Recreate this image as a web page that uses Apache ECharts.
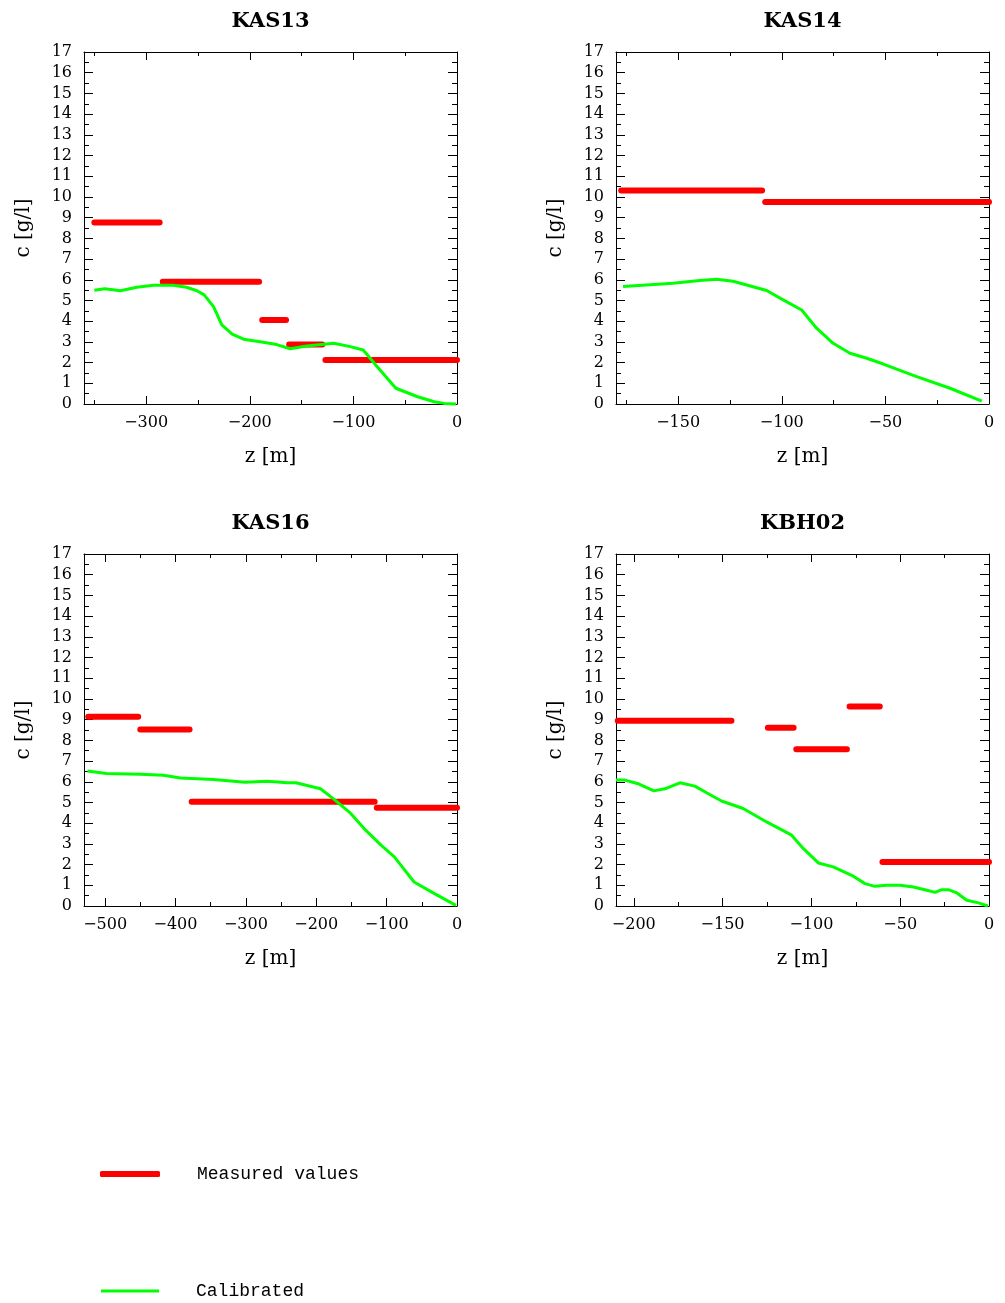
<!DOCTYPE html>
<html><head><meta charset="utf-8">
<script src="https://cdn.jsdelivr.net/npm/echarts@6/dist/echarts.min.js"></script>
<style>html,body{margin:0;padding:0;background:#fff}#c{width:1005px;height:1303px}</style>
</head><body><div id="c"></div>
<script>
// ---------- data ----------
const wellNames = ['KAS13', 'KAS14', 'KAS16', 'KBH02'];
const zMinValues = [-360, -180, -530, -210];
const cTicks = [0,1,2,3,4,5,6,7,8,9,10,11,12,13,14,15,16,17];

const zMajorKAS13 = [-300, -200, -100, 0];
const zMinorKAS13 = [-350, -250, -150, -50];
const zMajorKAS14 = [-150, -100, -50, 0];
const zMinorKAS14 = [-175, -125, -75, -25];
const zMajorKAS16 = [-500, -400, -300, -200, -100, 0];
const zMinorKAS16 = [-450, -350, -250, -150, -50];
const zMajorKBH02 = [-200, -150, -100, -50, 0];
const zMinorKBH02 = [-175, -125, -75, -25];

// measured: [zFrom, zTo, c]
const measuredKAS13 = [[-350, -287, 8.76], [-284, -191, 5.91], [-188, -165, 4.06], [-162, -130, 2.87], [-127, 0, 2.13]];
const measuredKAS14 = [[-177.5, -109.5, 10.31], [-108, 0, 9.76]];
const measuredKAS16 = [[-524, -453, 9.14], [-450, -380, 8.52], [-377, -117, 5.03], [-114, 0, 4.74]];
const measuredKBH02 = [[-209, -145, 8.95], [-124.5, -110, 8.61], [-108.5, -80, 7.57], [-78.5, -61.5, 9.63], [-60, 0, 2.13]];

// calibrated: [z, c]
const calibratedKAS13 = [[-350,5.49],[-340,5.57],[-325,5.47],[-309,5.64],[-293,5.73],[-274,5.73],[-261,5.64],[-251,5.47],[-244,5.27],[-235,4.70],[-227,3.82],[-217,3.37],[-206,3.13],[-187,2.98],[-174,2.87],[-161,2.67],[-145,2.80],[-119,2.93],[-103,2.77],[-90.5,2.61],[-77,1.80],[-59,0.76],[-38,0.35],[-22,0.11],[-12.5,0.03],[-1,0]];
const calibratedKAS14 = [[-176.6,5.67],[-152.5,5.83],[-139.6,5.96],[-131.5,6.03],[-123.5,5.93],[-107.3,5.48],[-99.3,5.03],[-90.4,4.54],[-83.2,3.66],[-75.2,2.93],[-67.1,2.45],[-59,2.21],[-51,1.93],[-34.9,1.32],[-18.8,0.76],[-3.5,0.14]];
const calibratedKAS16 = [[-525,6.52],[-498,6.40],[-450,6.36],[-417,6.31],[-393,6.18],[-346,6.11],[-301,5.98],[-270,6.02],[-241,5.95],[-229,5.95],[-194,5.66],[-175,5.16],[-151,4.47],[-132,3.74],[-108,2.94],[-89,2.37],[-61,1.16],[-32,0.60],[-1.5,0.03]];
const calibratedKBH02 = [[-210,6.08],[-205,6.08],[-197,5.89],[-193,5.73],[-188.7,5.56],[-182.5,5.66],[-174,5.95],[-165.6,5.79],[-159,5.47],[-150.6,5.07],[-138.4,4.71],[-125.2,4.06],[-111.1,3.42],[-104.6,2.78],[-96.1,2.08],[-87.7,1.89],[-76.4,1.44],[-69.8,1.08],[-64.2,0.95],[-57.6,1.00],[-50.1,1.00],[-42.6,0.92],[-35,0.76],[-30.3,0.66],[-26.6,0.79],[-22.9,0.79],[-18.1,0.63],[-12.5,0.28],[-5.9,0.15],[-0.6,0]];

const majorTicks = [zMajorKAS13, zMajorKAS14, zMajorKAS16, zMajorKBH02];
const minorTicks = [zMinorKAS13, zMinorKAS14, zMinorKAS16, zMinorKBH02];
const measuredAll = [measuredKAS13, measuredKAS14, measuredKAS16, measuredKBH02];
const calibratedAll = [calibratedKAS13, calibratedKAS14, calibratedKAS16, calibratedKBH02];

// ---------- layout ----------
const gridLefts = [84, 616, 84, 616];
const gridTops = [52, 52, 554, 554];
const GW = 373, GH = 352;
const titleTops = [11, 11, 513, 513];

const SERIF = 'DejaVu Serif';
const AX = '#000';
const fmtMinus = v => (v < 0 ? '\u2212' + (-v) : String(v));

const grid = [], xAxis = [], yAxis = [], series = [], title = [];
for (let i = 0; i < 4; i++) {
  grid.push({ left: gridLefts[i], top: gridTops[i], width: GW, height: GH });
  title.push({
    text: wellNames[i], left: gridLefts[i] + GW / 2, top: titleTops[i], textAlign: 'center', padding: 0,
    textStyle: { fontFamily: SERIF, fontSize: 21, fontWeight: 'bold', color: '#000' }
  });
  const common = { type: 'value', gridIndex: i, min: zMinValues[i], max: 0, splitLine: { show: false } };
  const xa = xAxis.length;
  xAxis.push(Object.assign({}, common, {
    position: 'bottom',
    axisLine: { show: true, onZero: false, lineStyle: { color: AX, width: 1 } },
    axisTick: { show: true, inside: true, length: 8, customValues: majorTicks[i], lineStyle: { color: AX } },
    axisLabel: { show: true, customValues: majorTicks[i], formatter: fmtMinus, margin: 11, color: '#000', fontFamily: SERIF, fontSize: 16 },
    name: 'z [m]', nameLocation: 'middle', nameGap: 43,
    nameTextStyle: { fontFamily: SERIF, fontSize: 20, color: '#000' }
  }));
  xAxis.push(Object.assign({}, common, {
    position: 'bottom',
    axisLine: { show: false, onZero: false },
    axisTick: { show: true, inside: true, length: 4, customValues: minorTicks[i], lineStyle: { color: AX } },
    axisLabel: { show: false }
  }));
  xAxis.push(Object.assign({}, common, {
    position: 'top',
    axisLine: { show: true, onZero: false, lineStyle: { color: AX, width: 1 } },
    axisTick: { show: true, inside: true, length: 8, customValues: majorTicks[i], lineStyle: { color: AX } },
    axisLabel: { show: false }
  }));
  xAxis.push(Object.assign({}, common, {
    position: 'top',
    axisLine: { show: false, onZero: false },
    axisTick: { show: true, inside: true, length: 4, customValues: minorTicks[i], lineStyle: { color: AX } },
    axisLabel: { show: false }
  }));
  const ya = yAxis.length;
  const ycommon = {
    type: 'value', gridIndex: i, min: cTicks[0], max: cTicks[cTicks.length - 1], interval: 1,
    splitLine: { show: false },
    axisLine: { show: true, onZero: false, lineStyle: { color: AX, width: 1 } },
    axisTick: { show: true, inside: true, length: 9, lineStyle: { color: AX } },
    minorTick: { show: true, splitNumber: 2, length: 5, lineStyle: { color: AX } }
  };
  yAxis.push(Object.assign({}, ycommon, {
    position: 'left',
    axisLabel: { show: true, margin: 12, color: '#000', fontFamily: SERIF, fontSize: 16 },
    name: 'c [g/l]', nameLocation: 'middle', nameGap: 50, nameRotate: 90,
    nameTextStyle: { fontFamily: SERIF, fontSize: 20, color: '#000' }
  }));
  yAxis.push(Object.assign({}, ycommon, { position: 'right', axisLabel: { show: false } }));

  const measData = [];
  measuredAll[i].forEach(s => { measData.push([s[0], s[2]]); measData.push([s[1], s[2]]); measData.push([s[1], '-']); });
  series.push({
    name: 'Measured values', type: 'line', xAxisIndex: xa, yAxisIndex: ya, data: measData,
    showSymbol: false, symbol: 'none', connectNulls: false, clip: false, color: '#ff0000',
    lineStyle: { color: '#ff0000', width: 6, cap: 'round' }, z: 2
  });
  series.push({
    name: 'Calibrated', type: 'line', xAxisIndex: xa, yAxisIndex: ya, data: calibratedAll[i],
    showSymbol: false, symbol: 'none', clip: false, color: '#00ff00',
    lineStyle: { color: '#00ff00', width: 3 }, z: 3
  });
}

const legendText = { fontFamily: 'Liberation Mono', fontSize: 18, color: '#000', padding: [0, 0, 0, 32] };
const legend = [
  { data: ['Measured values'], left: 100, top: 1165, padding: 0, itemWidth: 60, itemHeight: 6, icon: 'roundRect', selectedMode: false, textStyle: legendText },
  { data: ['Calibrated'], left: 101, top: 1282, padding: 0, itemWidth: 58, itemHeight: 3, icon: 'rect', selectedMode: false, textStyle: legendText }
];

const chart = echarts.init(document.getElementById('c'), null, { renderer: 'canvas' });
chart.setOption({ animation: false, backgroundColor: '#fff', title, grid, xAxis, yAxis, legend, series });
</script>
</body></html>
